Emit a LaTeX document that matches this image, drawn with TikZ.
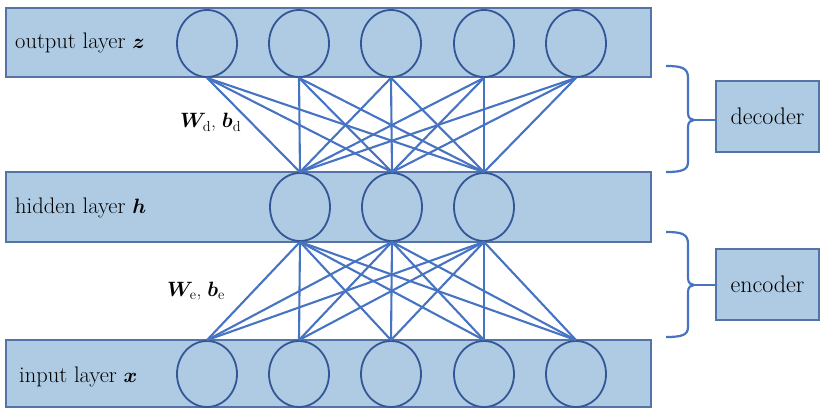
\documentclass[tikz,border=0pt]{standalone}
\usepackage{bm}
\usetikzlibrary{shapes.geometric}
\definecolor{lfill}{RGB}{174,203,227}
\definecolor{lborder}{RGB}{84,116,168}
\definecolor{cborder}{RGB}{50,86,150}
\definecolor{wire}{RGB}{70,115,194}
\tikzset{
  layer/.style={draw=lborder, fill=lfill, line width=1.5pt, rectangle, inner sep=0pt},
  neuron/.style={draw=cborder, fill=lfill, line width=1.8pt, ellipse, inner sep=0pt, minimum width=60pt},
  wirel/.style={draw=wire, line width=2.1pt},
  brace/.style={draw=wire, line width=2.2pt},
  lbl/.style={font=\fontsize{22.5}{26}\selectfont, inner sep=0pt, anchor=base west},
  wlbl/.style={font=\fontsize{19.5}{23}\selectfont, inner sep=0pt, anchor=base west},
  partbox/.style={draw=lborder, fill=lfill, line width=1.5pt, rectangle, inner sep=0pt,
    minimum width=103pt, minimum height=71pt, font=\fontsize{24}{28}\selectfont},
}
\begin{document}
\begin{tikzpicture}[x=1pt,y=-1pt]
\useasboundingbox (0,0) rectangle (820,409);
% layers
\node[layer, minimum width=645pt, minimum height=69pt] (outL) at (328.5,42.5) {};
\node[layer, minimum width=645pt, minimum height=70pt] (hidL) at (328.5,207) {};
\node[layer, minimum width=645pt, minimum height=67pt] (inL) at (328.5,373.5) {};
\node[lbl] (outT) at (15,49) {output layer $\bm{z}$};
\node[lbl] (hidT) at (15,214) {hidden layer $\bm{h}$};
\node[lbl] (inT) at (19,382) {input layer $\bm{x}$};
% neurons
\foreach \i/\x in {1/207,2/299,3/391,4/484,5/576}{
  \node[neuron, minimum height=67pt] (o\i) at (\x,43.5) {};
  \node[neuron, minimum height=66pt] (i\i) at (\x,374) {};
}
\foreach \i/\x in {1/300,2/392,3/484}{
  \node[neuron, minimum height=68pt] (h\i) at (\x,207) {};
}
% connections
\foreach \a in {1,...,5}{
  \foreach \b in {1,2,3}{
    \draw[wirel] (o\a.south) -- (h\b.north);
    \draw[wirel] (i\a.north) -- (h\b.south);
  }
}
% weight labels
\node[wlbl] (wd) at (180,128) {$\bm{W}_{\mathrm{d}}$, $\bm{b}_{\mathrm{d}}$};
\node[wlbl] (we) at (167,296) {$\bm{W}_{\mathrm{e}}$, $\bm{b}_{\mathrm{e}}$};
% part boxes
\node[partbox] (dec) at (767.5,116.5) {decoder};
\node[partbox] (enc) at (767.5,284.5) {encoder};
% braces
\coordinate (dtip) at (694,120);
\coordinate (etip) at (694,285);
\draw[brace] (666,66) .. controls (682,66) and (688,68) .. (688,78) -- (688,113)
  .. controls (688,118) and (691,120) .. (dtip)
  .. controls (691,120) and (688,122) .. (688,127) -- (688,162)
  .. controls (688,170) and (682,172) .. (666,172);
\draw[brace] (dtip) -- (dtip -| dec.west);
\draw[brace] (666,232) .. controls (682,232) and (688,234) .. (688,244) -- (688,278)
  .. controls (688,283) and (691,285) .. (etip)
  .. controls (691,285) and (688,287) .. (688,292) -- (688,327)
  .. controls (688,335) and (682,337) .. (666,337);
\draw[brace] (etip) -- (etip -| enc.west);
\end{tikzpicture}
\end{document}
